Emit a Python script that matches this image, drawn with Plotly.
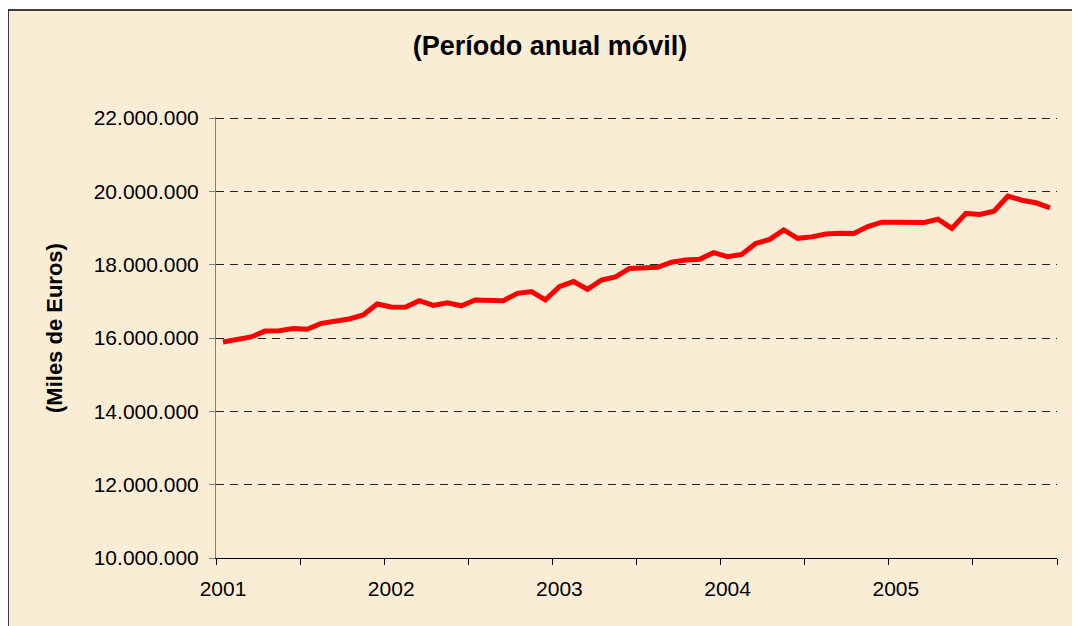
import plotly.graph_objects as go

years = ["2001", "2002", "2003", "2004", "2005"]
months_per_year = 12
values = [
    15.89, 15.96, 16.03, 16.19, 16.20, 16.26, 16.24, 16.40, 16.45, 16.52, 16.63, 16.93,
    16.85, 16.84, 17.02, 16.89, 16.96, 16.88, 17.04, 17.04, 17.02, 17.22, 17.27, 17.04,
    17.40, 17.54, 17.33, 17.58, 17.67, 17.90, 17.90, 17.93, 18.07, 18.13, 18.15, 18.33,
    18.22, 18.28, 18.58, 18.69, 18.95, 18.72, 18.76, 18.84, 18.86, 18.85, 19.04, 19.16,
    19.16, 19.17, 19.15, 19.24, 18.99, 19.40, 19.37, 19.46, 19.87, 19.76, 19.69, 19.55,
]
values = [v * 1_000_000 for v in values]
idx = list(range(len(values)))

# the page body has an 8px margin: figure coordinates = page coordinates - 8
OFF = 8
W, H = 1080 - OFF, 626 - OFF
L, R, T, B = 216 - OFF, 23, 117 - OFF, 68
pw, ph = W - L - R, H - T - B

FONT = "Liberation Sans, Arial, sans-serif"
BG = "#FAEDD5"

fig = go.Figure()
fig.add_trace(go.Scatter(x=idx, y=values, mode="lines",
                         line=dict(color="#FF0000", width=5),
                         hoverinfo="skip", showlegend=False))
fig.add_trace(go.Scatter(x=[0], y=[values[0]], xaxis="x2", mode="markers",
                         marker=dict(opacity=0), showlegend=False, hoverinfo="skip"))

n = len(values)
fig.update_layout(
    width=W, height=H,
    margin=dict(l=L, r=R, t=T, b=B),
    paper_bgcolor="white",
    plot_bgcolor="rgba(0,0,0,0)",
    separators=",.",
    font=dict(family=FONT, color="black", size=21),
    xaxis=dict(range=[-0.5, n - 0.5], tickmode="array",
               tickvals=[i - 0.5 for i in range(0, n + 1, 6)],
               ticktext=["" for _ in range(0, n + 1, 6)],
               ticks="outside", ticklen=6, tickcolor="black", tickwidth=1,
               showline=True, linecolor="black", linewidth=1,
               showgrid=False, zeroline=False, fixedrange=True),
    xaxis2=dict(overlaying="x", side="bottom", matches="x", anchor="y",
                tickmode="array",
                tickvals=[i * months_per_year for i in range(len(years))],
                ticktext=years, ticks="", showline=False, showgrid=False,
                zeroline=False, ticklabelstandoff=16,
                tickfont=dict(size=21, family=FONT)),
    yaxis=dict(range=[10_000_000, 22_030_000], tickmode="array",
               tickvals=[10_000_000 + 2_000_000 * k for k in range(7)],
               tickformat=",d", ticks="outside", ticklen=6, tickcolor="#808080",
               showline=True, linecolor="#808080", linewidth=1,
               showgrid=True, gridcolor="#222222", gridwidth=1, griddash="8px,6px",
               zeroline=False, ticklabelstandoff=6, tickfont=dict(size=21, family=FONT)),
    title=dict(text="<b>(Período anual móvil)</b>", x=(550 - OFF) / W, xref="container",
               xanchor="center", y=1 - (46 - OFF) / H, yanchor="middle", yref="container",
               font=dict(size=27, family=FONT, color="black")),
    showlegend=False,
)

fig.add_annotation(text="<b>(Miles de Euros)</b>", textangle=-90,
                   xref="paper", yref="paper",
                   x=(54 - OFF - L) / pw, y=(H - B - (328 - OFF)) / ph,
                   xanchor="center", yanchor="middle", showarrow=False,
                   font=dict(size=22, family=FONT, color="black"))

fig.add_shape(type="rect", xref="paper", yref="paper", layer="below",
              x0=(8 - OFF - L) / pw, x1=(1077 - OFF - L) / pw,
              y0=(H - B - 640) / ph, y1=(H - B - (10 - OFF)) / ph,
              fillcolor=BG, line=dict(color="black", width=1.5))

fig.write_html("out.html")
